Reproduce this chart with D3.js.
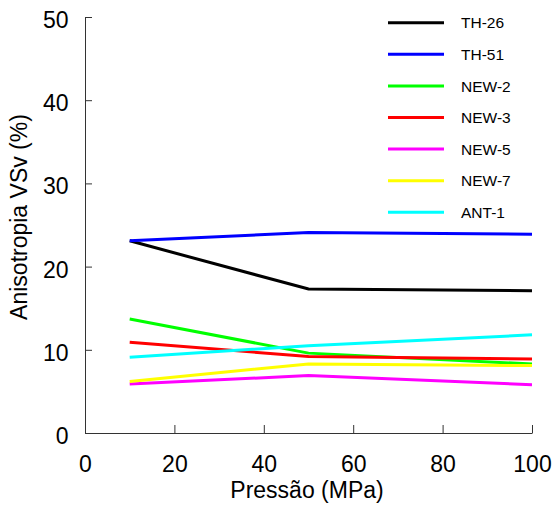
<!DOCTYPE html>
<html><head><meta charset="utf-8">
<script src="https://cdn.jsdelivr.net/npm/d3@7"></script>
<style>body{margin:0;background:#fff}svg{display:block}text{font-family:"Liberation Sans",Arial,sans-serif}</style>
</head><body>
<svg id="c" width="553" height="506"></svg>
<script>
const pressures = [10, 50, 100];
const seriesNames = ["TH-26","TH-51","NEW-2","NEW-3","NEW-5","NEW-7","ANT-1"];
const seriesColors = ["#000000","#0000ff","#00ff00","#ff0000","#ff00ff","#ffff00","#00ffff"];
const th26 = [23.1, 17.3, 17.1];
const th51 = [23.1, 24.1, 23.9];
const new2 = [13.7, 9.6, 8.3];
const new3 = [10.9, 9.2, 8.9];
const new5 = [5.9, 6.9, 5.8];
const new7 = [6.2, 8.3, 8.1];
const ant1 = [9.1, 10.5, 11.8];
const xTicks = [0,20,40,60,80,100];
const yTicks = [0,10,20,30,40,50];
const seriesValues = [th26, th51, new2, new3, new5, new7, ant1];

const svg = d3.select("#c");
const x = d3.scaleLinear().domain([0,100]).range([85,532]);
const y = d3.scaleLinear().domain([0,50]).range([433,17]);

const xa = svg.append("g").attr("transform","translate(0,433)")
  .call(d3.axisBottom(x).tickValues(xTicks).tickSizeInner(-8).tickSizeOuter(0).tickPadding(22.5));
const ya = svg.append("g").attr("transform","translate(85,0)")
  .call(d3.axisLeft(y).tickValues(yTicks).tickSizeInner(-7).tickSizeOuter(0).tickPadding(16.5));
[xa, ya].forEach(a => {
  a.selectAll("path,line").attr("stroke","#333").attr("stroke-width",1);
  a.selectAll("text").attr("font-size",23).attr("fill","#000").attr("font-family","Liberation Sans, Arial, sans-serif");
});
ya.selectAll("text").attr("dy","0.46em");

const line = d3.line().x((d,i)=>x(pressures[i])).y(d=>y(d));
seriesValues.forEach((vals,k)=>{
  svg.append("path").datum(vals).attr("d",line).attr("fill","none")
    .attr("stroke",seriesColors[k]).attr("stroke-width",3);
});

const lg = svg.append("g");
seriesNames.forEach((n,k)=>{
  const yy = 22.7 + k*31.6;
  lg.append("line").attr("x1",388).attr("x2",444).attr("y1",yy).attr("y2",yy)
    .attr("stroke",seriesColors[k]).attr("stroke-width",3);
  lg.append("text").attr("x",461).attr("y",yy+5.6).attr("font-size",15.5).text(n);
});

svg.append("text").attr("x",307).attr("y",498).attr("text-anchor","middle")
  .attr("font-size",23).text("Pressão (MPa)");
svg.append("text").attr("transform","translate(27,217) rotate(-90)").attr("text-anchor","middle")
  .attr("font-size",23).text("Anisotropia VSv (%)");
</script>
</body></html>
